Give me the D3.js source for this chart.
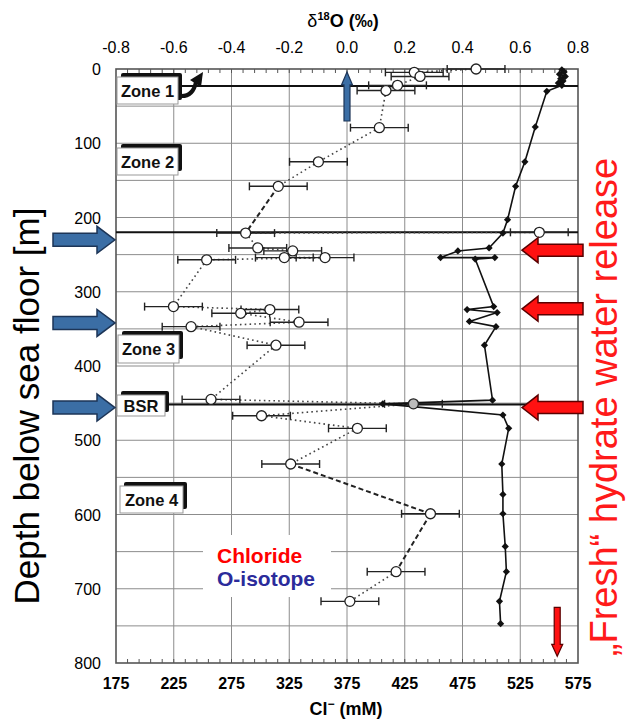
<!DOCTYPE html>
<html><head><meta charset="utf-8">
<script src="https://cdn.jsdelivr.net/npm/d3@7"></script>
<style>body{margin:0;background:#fff;} svg{display:block;font-family:"Liberation Sans",Arial,sans-serif;}</style>
</head><body><svg id="c" width="630" height="722"></svg>
<script>
// ---------- data ----------
const clTicks = [175,225,275,325,375,425,475,525,575];
const oTicks = [-0.8,-0.6,-0.4,-0.2,0.0,0.2,0.4,0.6,0.8];
const depthTicks = [0,100,200,300,400,500,600,700,800];

// Chloride profile (depth m, Cl- mM), in drawing order
const clDepth = [1,4,7,10,13,16,19,22,30,78,125,158,203,221,241,245,254,254,256,320,324,328,340,347,372,446,451,466,484,532,573,599,643,677,717,747];
const clValue = [561,563,559,564,560,562,558,561,548,538,529,521,514,510,498,471,456,503,486,502,479,505,481,504,494,501,406,510,515,509,510,510,512,513,507,508];

// Oxygen isotope (depth m, d18O permil, +/- error)
const oDepth = [0,4.5,10,22,29,79,125,158,220,221,241,245,254,254,257,320,324,329,341,347,372,445,451,467,484,532,599,677,717];
const oValue = [0.447,0.233,0.253,0.175,0.135,0.112,-0.099,-0.238,0.666,-0.351,-0.309,-0.188,-0.217,-0.076,-0.486,-0.601,-0.267,-0.368,-0.166,-0.540,-0.246,-0.471,0.23,-0.296,0.036,-0.195,0.289,0.170,0.010];
const oError = [0.1,0.1,0.1,0.1,0.1,0.1,0.1,0.1,0.1,0.1,0.1,0.1,0.1,0.1,0.1,0.1,0.1,0.1,0.1,0.1,0.1,0.1,0.1,0.1,0.1,0.1,0.1,0.1,0.1];
// connecting paths (indices into the isotope arrays) and dashed segments
const oPathA = [0,1,2,3,4,5,6,7,9,8];
const oPathB = [9,10,11,12,13,14,15,16,17,18,19,20,21,22,23,24,25,26,27,28];
const oDashedSeg = ["7-9","25-26","26-27"];

// annotation depths
const zoneLines = [{d:23,x0:180},{d:220,x0:116},{d:452,x0:164}];
const blueArrowDepths = [230,342,456];
const redArrowDepths = [244,323,456];

// ---------- scales ----------
const svg = d3.select('#c');
const x  = d3.scaleLinear().domain([175,575]).range([116,578]);
const xo = d3.scaleLinear().domain([-0.8,0.8]).range([116,578]);
const y  = d3.scaleLinear().domain([0,800]).range([69,663]);
const L=116,R=578,T=69,B=663;

// ---------- grid ----------
const grid = svg.append('g').attr('stroke','#8c8c8c').attr('stroke-width',1);
grid.selectAll('.v').data(clTicks.slice(1,-1)).join('line')
  .attr('x1',d=>x(d)).attr('x2',d=>x(d)).attr('y1',T).attr('y2',B);
grid.selectAll('.h').data(y.ticks(16).filter(d=>d>0&&d<800)).join('line')
  .attr('x1',L).attr('x2',R).attr('y1',d=>y(d)).attr('y2',d=>y(d));
// minor ticks
const minor = d3.range(185,575,10);
const mt = svg.append('g').attr('stroke','#555').attr('stroke-width',1);
mt.selectAll('.t').data(minor).join('line').attr('x1',d=>x(d)).attr('x2',d=>x(d)).attr('y1',T).attr('y2',T+4);
mt.selectAll('.b').data(minor).join('line').attr('x1',d=>x(d)).attr('x2',d=>x(d)).attr('y1',B).attr('y2',B-4);

// legend background
svg.append('rect').attr('x',203).attr('y',535).attr('width',128).attr('height',62).attr('fill','#fff');

// frame
svg.append('rect').attr('x',L).attr('y',T).attr('width',R-L).attr('height',B-T)
  .attr('fill','none').attr('stroke','#555').attr('stroke-width',1.6);

// ---------- axes labels ----------
svg.append('g').selectAll('text').data(oTicks).join('text')
  .attr('x',d=>xo(d)).attr('y',53).attr('text-anchor','middle')
  .attr('font-size',16).text(d=>d3.format('.1f')(d).replace('−','-'));
svg.append('g').selectAll('text').data(clTicks).join('text')
  .attr('x',d=>x(d)).attr('y',689).attr('text-anchor','middle')
  .attr('font-size',16).attr('font-weight','bold').text(d=>d);
svg.append('g').selectAll('text').data(depthTicks).join('text')
  .attr('x',101).attr('y',d=>y(d)+6).attr('text-anchor','end')
  .attr('font-size',16).text(d=>d);

const tt = svg.append('text').attr('x',343).attr('y',27).attr('text-anchor','middle').attr('font-size',18);
tt.append('tspan').text('δ');
tt.append('tspan').attr('font-size',11).attr('dy',-7).attr('font-weight','bold').text('18');
tt.append('tspan').attr('dy',7).attr('font-weight','bold').text('O (‰)');

const bt = svg.append('text').attr('x',346).attr('y',715).attr('text-anchor','middle').attr('font-size',18).attr('font-weight','bold');
bt.append('tspan').text('Cl');
bt.append('tspan').attr('font-size',12).attr('dy',-7).text('−');
bt.append('tspan').attr('dy',7).text(' (mM)');

svg.append('text').attr('transform','translate(39,406) rotate(-90)').attr('text-anchor','middle')
  .attr('font-size',35).text('Depth below sea floor [m]');
svg.append('text').attr('transform','translate(617,407) rotate(-90)').attr('text-anchor','middle')
  .attr('font-size',38).attr('fill','#ff1a1a').text('„Fresh“ hydrate water release');

// ---------- horizontal zone lines ----------
svg.append('g').selectAll('line').data(zoneLines).join('line')
  .attr('x1',d=>d.x0).attr('x2',R).attr('y1',d=>y(d.d)).attr('y2',d=>y(d.d))
  .attr('stroke','#111').attr('stroke-width',2);

// ---------- isotope ----------
const pt = i=>[xo(oValue[i]), y(oDepth[i])];
const segs=[];
[oPathA,oPathB].forEach(p=>{for(let k=0;k<p.length-1;k++)segs.push([p[k],p[k+1]]);});
svg.append('g').selectAll('line').data(segs).join('line')
  .attr('x1',d=>pt(d[0])[0]).attr('y1',d=>pt(d[0])[1])
  .attr('x2',d=>pt(d[1])[0]).attr('y2',d=>pt(d[1])[1])
  .attr('stroke',d=>oDashedSeg.includes(d[0]+'-'+d[1])?'#222':'#444')
  .attr('stroke-width',d=>oDashedSeg.includes(d[0]+'-'+d[1])?2:1.6)
  .attr('stroke-dasharray',d=>oDashedSeg.includes(d[0]+'-'+d[1])?'5,3':'1.6,3.2');

const eb = svg.append('g').attr('stroke','#222').attr('stroke-width',1.4);
oValue.forEach((v,i)=>{
  const yy=y(oDepth[i]);
  eb.append('line').attr('x1',xo(v-oError[i])).attr('x2',xo(v+oError[i])).attr('y1',yy).attr('y2',yy);
  eb.append('line').attr('x1',xo(v-oError[i])).attr('x2',xo(v-oError[i])).attr('y1',yy-4).attr('y2',yy+4);
  eb.append('line').attr('x1',xo(v+oError[i])).attr('x2',xo(v+oError[i])).attr('y1',yy-4).attr('y2',yy+4);
});

// ---------- chloride ----------
const clPts = clValue.map((v,i)=>[x(v),y(clDepth[i])]);
svg.append('path').attr('d',d3.line()(clPts)).attr('fill','none').attr('stroke','#111').attr('stroke-width',1.6);
svg.append('g').selectAll('path').data(clPts).join('path')
  .attr('d',d3.symbol(d3.symbolSquare,26)())
  .attr('transform',d=>`translate(${d[0]},${d[1]}) rotate(45)`).attr('fill','#111');

svg.append('g').selectAll('circle').data(oValue).join('circle')
  .attr('cx',(d,i)=>xo(d)).attr('cy',(d,i)=>y(oDepth[i])).attr('r',5)
  .attr('fill',(d,i)=>i===22?'#bbb':'#fff').attr('stroke','#222').attr('stroke-width',1.3);

// ---------- zone boxes ----------
const boxes=[
  {t:'Zone 1',x:117,y:77,w:61,h:27},
  {t:'Zone 2',x:117,y:148,w:61,h:27},
  {t:'Zone 3',x:118,y:335,w:61,h:28},
  {t:'BSR',x:117,y:395,w:48,h:21},
  {t:'Zone 4',x:120,y:486,w:63,h:27}];
const bg=svg.append('g');
boxes.forEach(b=>{
  bg.append('rect').attr('x',b.x+4).attr('y',b.y-4).attr('width',b.w).attr('height',b.h).attr('rx',2).attr('fill','#111');
  bg.append('rect').attr('x',b.x).attr('y',b.y).attr('width',b.w).attr('height',b.h).attr('fill','#fff').attr('stroke','#999').attr('stroke-width',1);
  bg.append('text').attr('x',b.x+b.w/2).attr('y',b.y+b.h/2+6).attr('text-anchor','middle')
    .attr('font-size',16.5).attr('font-weight','bold').attr('fill','#111').text(b.t);
});
// zone 1 curly arrow
bg.append('path').attr('d','M180,96 Q193,97 196,82').attr('fill','none').attr('stroke','#111').attr('stroke-width',4);
bg.append('path').attr('d','M190,80 L203,72 L201,87 Z').attr('fill','#111');

// ---------- arrows ----------
function hArrow(tipX, cy, dir, bodyLen, headLen, bodyH, headH, fill, stroke){
  const s=dir; // +1 points right, -1 points left
  const hb=tipX - s*headLen, bs=hb - s*bodyLen;
  const p=[[tipX,cy],[hb,cy-headH/2],[hb,cy-bodyH/2],[bs,cy-bodyH/2],[bs,cy+bodyH/2],[hb,cy+bodyH/2],[hb,cy+headH/2]];
  svg.append('path').attr('d','M'+p.join('L')+'Z').attr('fill',fill).attr('stroke',stroke).attr('stroke-width',1.5).attr('stroke-linejoin','miter');
}
blueArrowDepths.forEach(d=>hArrow(115,y(d),1,44,18,13,27,'#3b6ea5','#1d3557'));
redArrowDepths.forEach(d=>hArrow(522,y(d),-1,45,16,12,25,'#ff1111','#5a0000'));
// vertical arrows
function vArrow(cx,y0,y1,bodyW,headW,headLen,fill,stroke){
  const s = y1>y0?1:-1; const hb=y1 - s*headLen;
  const p=[[cx,y1],[cx-headW/2,hb],[cx-bodyW/2,hb],[cx-bodyW/2,y0],[cx+bodyW/2,y0],[cx+bodyW/2,hb],[cx+headW/2,hb]];
  svg.append('path').attr('d','M'+p.join('L')+'Z').attr('fill',fill).attr('stroke',stroke).attr('stroke-width',1.2);
}
vArrow(xo(0.0),y(70),y(4),6,11,13,'#3b6ea5','#1d3557');
vArrow(x(557),y(725),y(791),6,11,12,'#ff1111','#5a0000');

// ---------- legend ----------
svg.append('text').attr('x',217).attr('y',563).attr('font-size',21).attr('font-weight','bold').attr('fill','#ff0000').text('Chloride');
svg.append('text').attr('x',217).attr('y',586).attr('font-size',21).attr('font-weight','bold').attr('fill','#2b2b9b').text('O-isotope');
</script></body></html>
